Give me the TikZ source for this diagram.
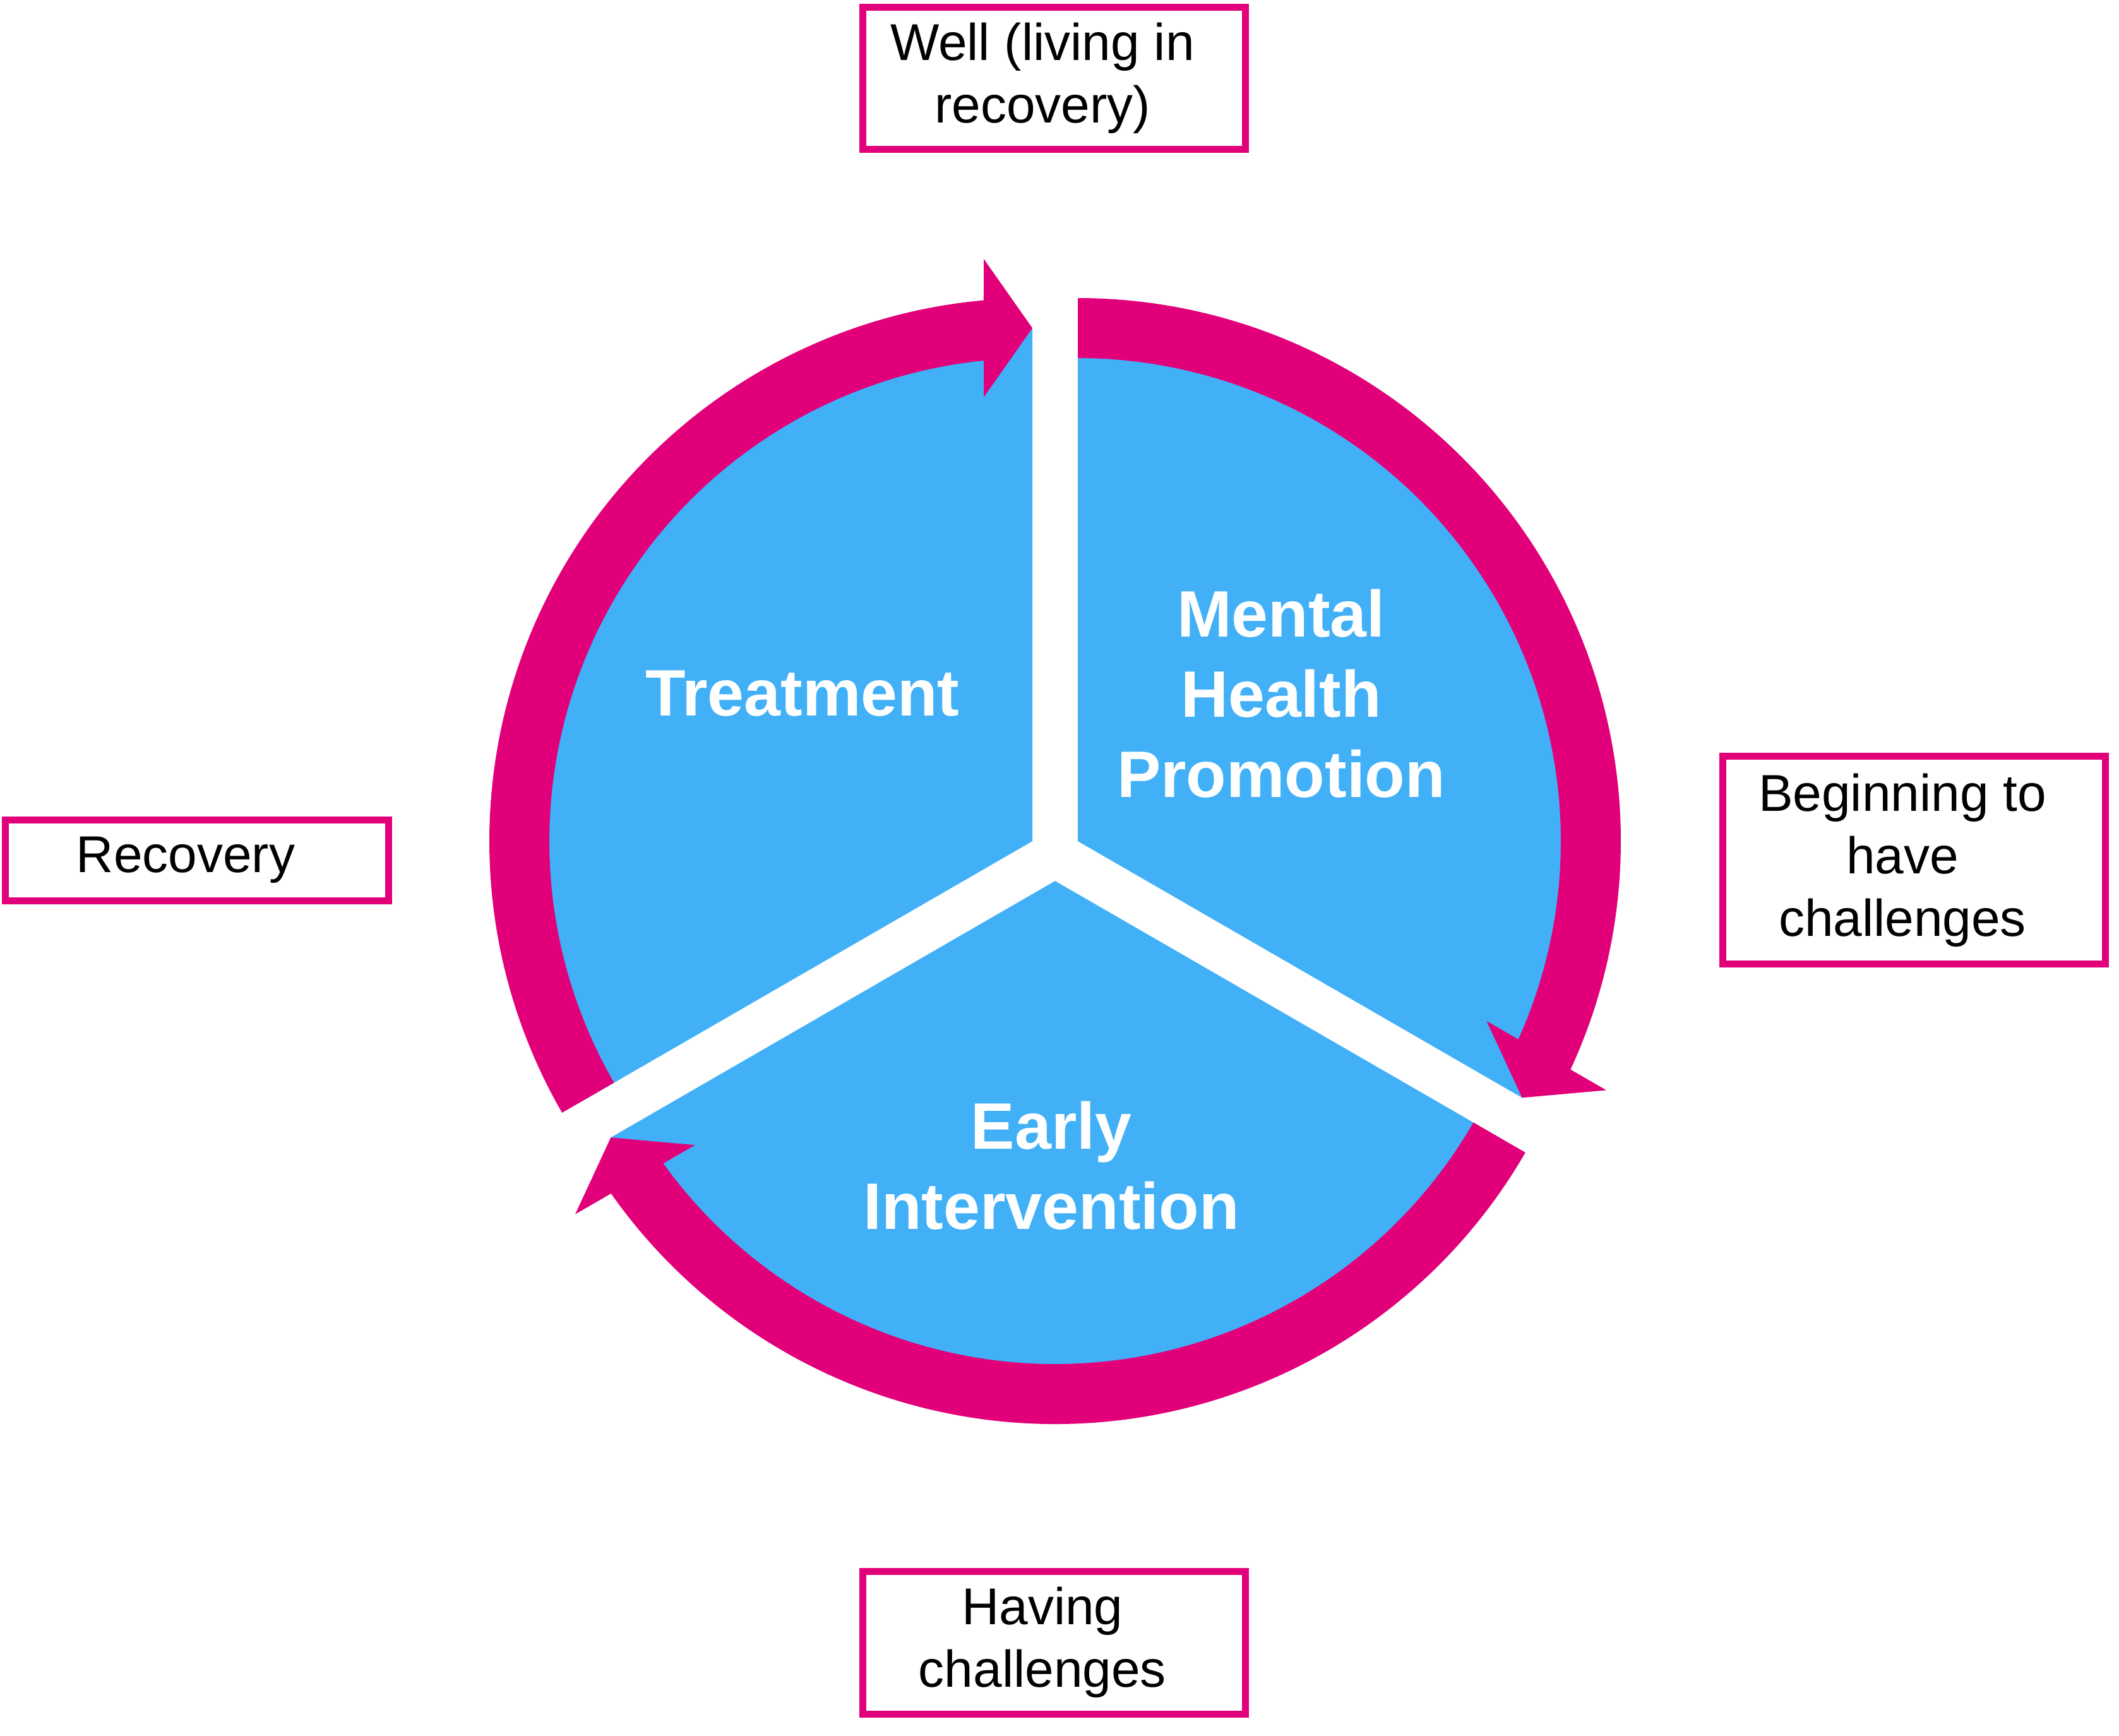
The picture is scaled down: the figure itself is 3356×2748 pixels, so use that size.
\documentclass[tikz,border=0pt]{standalone}
\usepackage{fontspec}
\setmainfont{Liberation Sans}

\definecolor{cyclepink}{RGB}{226,0,122}
\definecolor{cycleblue}{RGB}{65,176,247}

\tikzset{every picture/.style={line width=0.75pt}}
\tikzset{
    labelbox/.style={draw=cyclepink, line width=2.2pt, fill=white, minimum width=121.2pt, inner sep=0pt},
    boxtext/.style={align=center, inner sep=0pt, xshift=-3.6pt, font=\fontsize{16.4}{19.8}\selectfont},
    stagetext/.style={text=white, align=center, inner sep=0pt, font=\fontsize{20.8}{25.4}\selectfont\bfseries}
}

\begin{document}
\begin{tikzpicture}[
            x=0.2pt,
            y=0.2pt,
            yscale=-1,
            xscale=1,
            every node/.style={text=black},
            line width=0.75pt
        ]
            \useasboundingbox (0,0) rectangle (3356,2748);

            % blue sectors (reach under the arrow heads)
            \begin{scope}[shift={(1707,1332)}, rotate=30]
                \fill [cycleblue] (0,0) -- (-120:812.5) arc[start angle=-120, end angle=0, radius=812.5] -- cycle ;
            \end{scope}
            \begin{scope}[shift={(1671,1395)}, rotate=150]
                \fill [cycleblue] (0,0) -- (-120:812.5) arc[start angle=-120, end angle=0, radius=812.5] -- cycle ;
            \end{scope}
            \begin{scope}[shift={(1635,1332)}, rotate=270]
                \fill [cycleblue] (0,0) -- (-120:812.5) arc[start angle=-120, end angle=0, radius=812.5] -- cycle ;
            \end{scope}

            % curved arrows
            \begin{scope}[shift={(1707,1332)}, rotate=30]
                \fill [cyclepink] (-120:860) arc[start angle=-120, end angle=-5.14, radius=860] -- (922,-77) -- (812.5,0) -- (703,-77) -- (-5.78:765) arc[start angle=-5.78, end angle=-120, radius=765] -- cycle ;
            \end{scope}
            \begin{scope}[shift={(1671,1395)}, rotate=150]
                \fill [cyclepink] (-120:860) arc[start angle=-120, end angle=-5.14, radius=860] -- (922,-77) -- (812.5,0) -- (703,-77) -- (-5.78:765) arc[start angle=-5.78, end angle=-120, radius=765] -- cycle ;
            \end{scope}
            \begin{scope}[shift={(1635,1332)}, rotate=270]
                \fill [cyclepink] (-120:860) arc[start angle=-120, end angle=-5.14, radius=860] -- (922,-77) -- (812.5,0) -- (703,-77) -- (-5.78:765) arc[start angle=-5.78, end angle=-120, radius=765] -- cycle ;
            \end{scope}

            \node [stagetext] (treatment) at (1271,1098) {Treatment};
            \node [stagetext] (promotion) at (2029,1098) {Mental\\Health\\Promotion};
            \node [stagetext] (intervention) at (1665,1846) {Early\\Intervention};

            \node [labelbox, minimum height=45pt, label={[boxtext]center:{Well (living in\\recovery)}}] (well) at (1669,124) {};
            \node [labelbox, minimum height=65.8pt, label={[boxtext]center:{Beginning to\\have\\challenges}}] (beginning) at (3031,1362) {};
            \node [labelbox, minimum height=45.2pt, label={[boxtext]center:{Having\\challenges}}] (having) at (1669,2601) {};
            \node [labelbox, minimum height=25.6pt, label={[boxtext]center:{Recovery}}] (recovery) at (312,1362) {};
        \end{tikzpicture}
\end{document}
